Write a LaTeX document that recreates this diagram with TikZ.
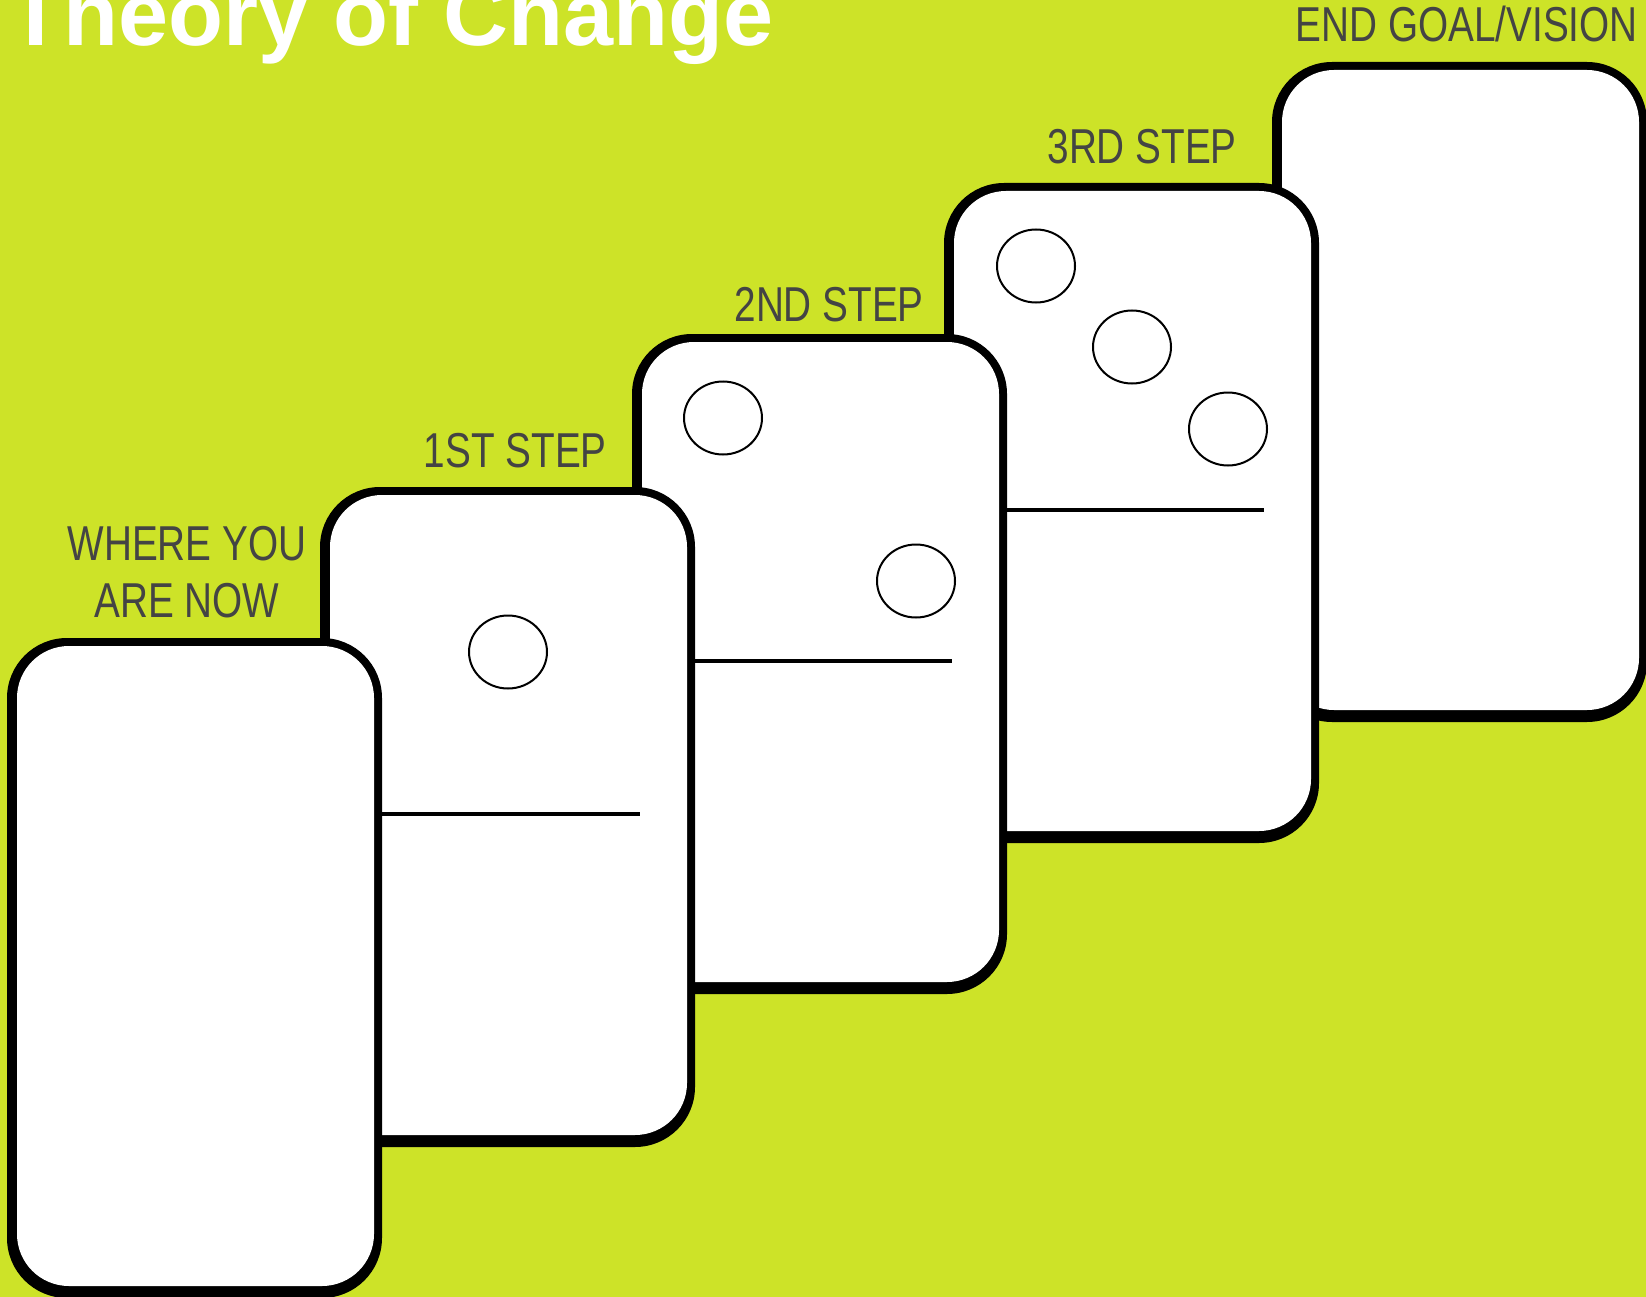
\documentclass[tikz,border=0pt]{standalone}
\usepackage{fontspec}
\setmainfont{Liberation Sans}
\newfontfamily\labelfont[FakeStretch=0.79]{Liberation Sans}
\definecolor{bg}{RGB}{205,227,40}
\definecolor{lbl}{RGB}{68,68,68}
\newcommand\tocdomino[2]{%
  \begin{scope}[shift={(#1,#2)}]
    \fill[black, rounded corners=60pt] (0,0) rectangle (375,660);
    \fill[white, rounded corners=52pt] (10,8) rectangle (367,648);
  \end{scope}}
\newcommand\tocsplit[2]{%
  \begin{scope}[shift={(#1,#2)}]
    \draw[splitline] (10,327) -- (320,327);
  \end{scope}}
\begin{document}
\begin{tikzpicture}[x=1pt,y=-1pt,
  lbltext/.style={text=lbl, font=\labelfont\fontsize{49}{57}\selectfont, inner sep=0pt},
  titletext/.style={text=white, font=\bfseries\fontsize{90}{100}\selectfont, inner sep=0pt},
  pip/.style={draw=black, line width=2pt, fill=white},
  splitline/.style={draw=black, line width=4pt}]
\useasboundingbox (0,0) rectangle (1646,1297);
\clip (0,0) rectangle (1646,1297);
\fill[bg] (0,0) rectangle (1646,1297);

% END GOAL domino
\tocdomino{1272}{62}
% 3rd step
\tocdomino{944}{183}
\tocsplit{944}{183}
\begin{scope}[shift={(944,183)}]
  \draw[pip] (92,83) ellipse [x radius=39pt, y radius=36.5pt];
  \draw[pip] (188,164) ellipse [x radius=39pt, y radius=36.5pt];
  \draw[pip] (284,246) ellipse [x radius=39pt, y radius=36.5pt];
\end{scope}
% 2nd step
\tocdomino{632}{334}
\tocsplit{632}{334}
\begin{scope}[shift={(632,334)}]
  \draw[pip] (91,84) ellipse [x radius=39pt, y radius=36.5pt];
  \draw[pip] (284,247) ellipse [x radius=39pt, y radius=36.5pt];
\end{scope}
% 1st step
\tocdomino{320}{487}
\tocsplit{320}{487}
\begin{scope}[shift={(320,487)}]
  \draw[pip] (188,165) ellipse [x radius=39pt, y radius=36.5pt];
\end{scope}
% where you are now
\tocdomino{7}{638}

% title and labels
\node[titletext, anchor=base west] (title) at (8,46) {Theory of Change};
\node[lbltext, anchor=base] (l0a) at (187,560) {WHERE YOU};
\node[lbltext, anchor=base] (l0b) at (187,617) {ARE NOW};
\node[lbltext, anchor=base east] (l1) at (607,467) {1ST STEP};
\node[lbltext, anchor=base east] (l2) at (924,321) {2ND STEP};
\node[lbltext, anchor=base east] (l3) at (1237,164) {3RD STEP};
\node[lbltext, anchor=base east] (l4) at (1638,42) {END GOAL/VISION};
\end{tikzpicture}
\end{document}
